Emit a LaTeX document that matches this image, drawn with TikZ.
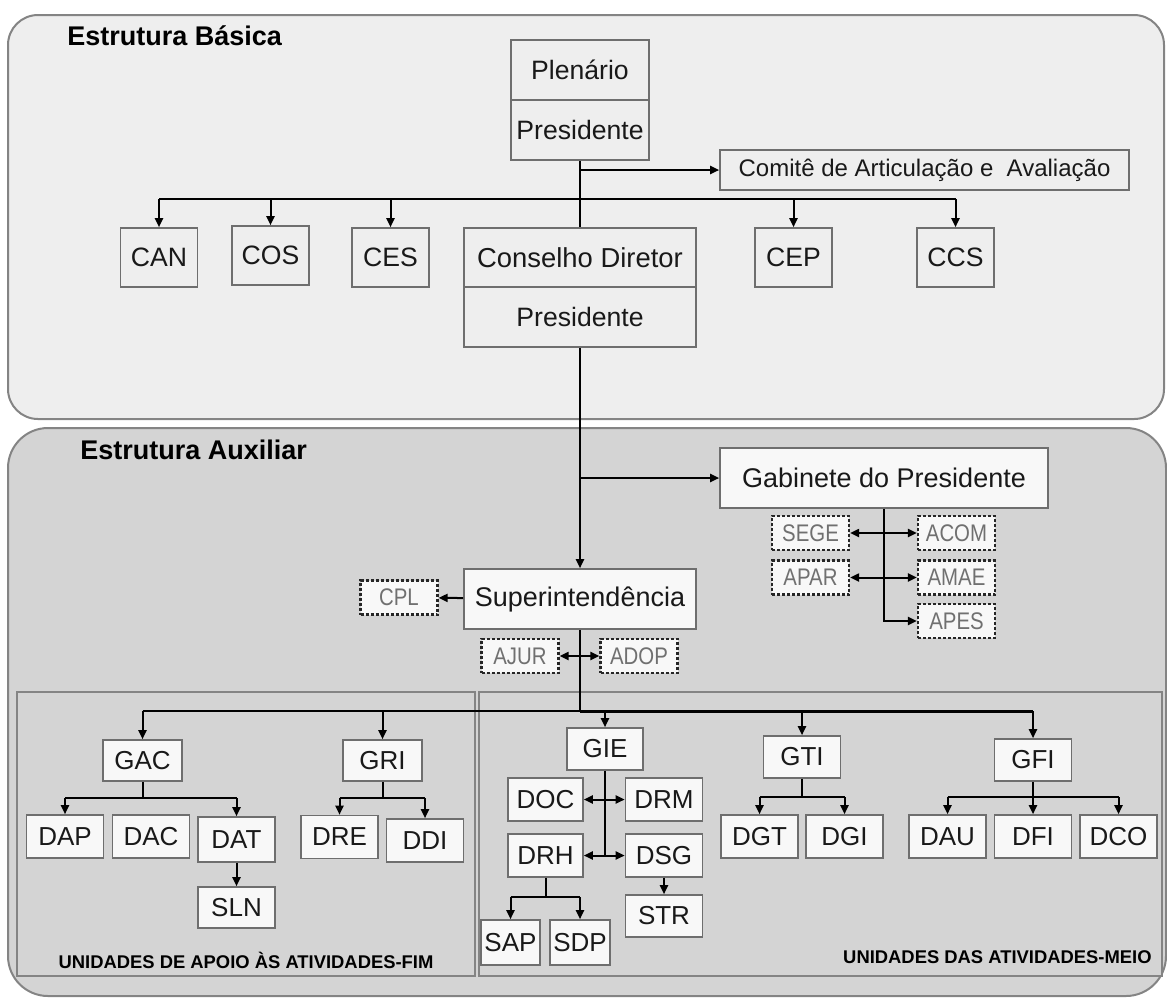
\documentclass[tikz,border=0pt]{standalone}
\usepackage{fontspec}
\setmainfont{Liberation Sans}
\newfontfamily\aidfont[FakeStretch=0.85]{Liberation Sans}
\usetikzlibrary{arrows.meta}

\definecolor{basicgray}{HTML}{EEEEEE}
\definecolor{auxgray}{HTML}{D4D4D4}
\definecolor{framegray}{HTML}{6E6E6E}
\definecolor{boxwhite}{HTML}{F8F8F8}
\definecolor{aidtext}{HTML}{707070}

\tikzset{
  panel/.style={draw=framegray!85, line width=1pt},
  orgbox/.style={draw=framegray, line width=0.8pt, inner sep=0pt, text=black!90,
    font=\fontsize{13}{15}\selectfont},
  topbox/.style={orgbox, fill=basicgray, minimum width=38.5pt, minimum height=29.5pt,
    font=\fontsize{13.3}{15}\selectfont},
  leafbox/.style={orgbox, fill=boxwhite, minimum width=38.5pt, minimum height=21.5pt},
  bigbox/.style={orgbox, fill=boxwhite, minimum height=30pt, font=\fontsize{13.5}{16}\selectfont},
  aidbox/.style={draw=black!85, dash pattern=on 1.5pt off 1pt, line width=1.1pt,
    fill=boxwhite, inner sep=0pt, minimum width=38.5pt, minimum height=17pt,
    text=aidtext, font=\aidfont\fontsize{12}{14}\selectfont},
  link/.style={line width=1pt, black},
  toarrow/.style={link, -{Triangle[length=4.5pt,width=4pt]}},
  twoway/.style={link, {Triangle[length=4.5pt,width=4pt]}-{Triangle[length=4.5pt,width=4pt]}},
  paneltitle/.style={font=\bfseries\fontsize{13.5}{16}\selectfont, anchor=west, inner sep=0pt},
  grouptitle/.style={font=\bfseries\fontsize{9.2}{11}\selectfont, inner sep=0pt}
}

\begin{document}
\begin{tikzpicture}[x=0.5pt,y=-0.5pt]
		\useasboundingbox (0,0) rectangle (1167,998);

		% Estrutura basica
		\draw[panel, fill=basicgray, rounded corners=15pt] (8,15) rectangle (1164,419);
		\node[paneltitle] at (67,36) {Estrutura Básica};
		\node[topbox, minimum width=69pt, minimum height=30pt] (plenario) at (580,70) {Plenário};
		\node[topbox, minimum width=69pt, minimum height=30pt] (presplen) at (580,130) {Presidente};
		\node[topbox, minimum width=204.5pt, minimum height=20pt, font=\fontsize{12}{14}\selectfont] (comite) at (924.5,170) {Comitê de Articulação e\ \ Avaliação};
		\node[topbox] (can) at (159,257.5) {CAN};
		\node[topbox] (cos) at (270.5,255.5) {COS};
		\node[topbox] (ces) at (390.5,257.5) {CES};
		\node[topbox, minimum width=116pt, font=\fontsize{13.7}{16}\selectfont] (conselho) at (580,257.5) {Conselho Diretor};
		\node[topbox, minimum width=116pt, minimum height=30pt] (prescons) at (580,317) {Presidente};
		\node[topbox] (cep) at (793.5,257.5) {CEP};
		\node[topbox] (ccs) at (955.5,257.5) {CCS};

		\coordinate (topbar) at (580,199);
		\draw[link] (presplen) -- (conselho);
		\draw[toarrow] (presplen.south |- comite.west) -- (comite.west);
		\draw[link] (topbar -| can) -- (topbar -| ccs);
		\foreach \c in {can,cos,ces,cep,ccs}
			\draw[toarrow] (topbar -| \c) -- (\c.north);

		% Estrutura auxiliar
		\draw[panel, fill=auxgray, rounded corners=20pt] (8,428) rectangle (1166,996);
		\node[paneltitle] at (80,450) {Estrutura Auxiliar};
		\draw[panel, fill=auxgray] (17,692) rectangle (475,976);
		\draw[panel, fill=auxgray] (479,692) rectangle (1162,976);
		\node[grouptitle] at (246,960) {UNIDADES DE APOIO ÀS ATIVIDADES-FIM};
		\node[grouptitle, anchor=east] at (1152,957) {UNIDADES DAS ATIVIDADES-MEIO};

		\node[bigbox, minimum width=164pt] (gabinete) at (884,478) {Gabinete do Presidente};
		\node[bigbox, minimum width=116pt] (superint) at (580,599) {Superintendência};
		\node[aidbox] (cpl) at (399,597.5) {CPL};
		\node[aidbox] (ajur) at (520,656) {AJUR};
		\node[aidbox] (adop) at (639,656) {ADOP};
		\node[aidbox] (sege) at (810.5,533) {SEGE};
		\node[aidbox] (acom) at (956.5,533) {ACOM};
		\node[aidbox] (apar) at (810.5,577.5) {APAR};
		\node[aidbox] (amae) at (956.5,577.5) {AMAE};
		\node[aidbox] (apes) at (956.5,621) {APES};

		\draw[toarrow] (prescons) -- (superint);
		\draw[toarrow] (prescons.south |- gabinete.west) -- (gabinete.west);
		\draw[toarrow] (superint) -- (cpl);
		\draw[twoway] (ajur) -- (adop);
		\draw[twoway] (sege) -- (acom);
		\draw[twoway] (apar) -- (amae);
		\draw[toarrow] (gabinete.south) |- (apes.west);

		% Atividades-fim
		\node[leafbox, minimum width=39.5pt, minimum height=20.5pt] (gac) at (142.5,760.5) {GAC};
		\node[leafbox, minimum width=39.5pt, minimum height=20.5pt] (gri) at (382.5,760.5) {GRI};
		\node[leafbox] (dap) at (65,836.5) {DAP};
		\node[leafbox] (dac) at (151,836.5) {DAC};
		\node[leafbox, minimum height=22.5pt] (dat) at (236.5,839.5) {DAT};
		\node[leafbox, minimum height=20.5pt] (sln) at (236.5,907.5) {SLN};
		\node[leafbox] (dre) at (339.5,837) {DRE};
		\node[leafbox] (ddi) at (425,840.5) {DDI};

		% Atividades-meio
		\node[leafbox, minimum width=38pt, minimum height=21pt] (gie) at (605,749) {GIE};
		\node[leafbox, minimum height=21pt] (gti) at (802,757) {GTI};
		\node[leafbox, minimum height=21pt] (gfi) at (1033,760) {GFI};
		\node[leafbox, minimum width=37.5pt] (doc) at (545.5,799.5) {DOC};
		\node[leafbox] (drm) at (664,799.5) {DRM};
		\node[leafbox, minimum width=37.5pt] (drh) at (545.5,855.5) {DRH};
		\node[leafbox] (dsg) at (664,855.5) {DSG};
		\node[leafbox, minimum width=29.5pt, minimum height=22.5pt] (sap) at (510.5,942.5) {SAP};
		\node[leafbox, minimum width=30pt, minimum height=22.5pt] (sdp) at (580,942.5) {SDP};
		\node[leafbox, minimum height=21pt] (str) at (664,916) {STR};
		\node[leafbox] (dgt) at (759.5,836.5) {DGT};
		\node[leafbox] (dgi) at (844.5,836.5) {DGI};
		\node[leafbox] (dau) at (947.5,836.5) {DAU};
		\node[leafbox] (dfi) at (1033,836.5) {DFI};
		\node[leafbox] (dco) at (1118.5,836.5) {DCO};

		\coordinate (bottombar) at (580,711);
		\draw[link] (superint) -- (bottombar);
		\draw[link] (bottombar -| gac) -- (bottombar);
		\draw[link, line width=1.5pt] (bottombar) -- (bottombar -| gfi);
		\foreach \g in {gac,gri,gie,gti,gfi}
			\draw[toarrow] (bottombar -| \g) -- (\g.north);

		\coordinate (gacfork) at (142.5,798);
		\draw[link] (gac) -- (gacfork);
		\draw[link] (gacfork -| dap) -- (gacfork -| dat);
		\draw[toarrow] (gacfork -| dap) -- (dap.north);
		\draw[toarrow] (gacfork -| dat) -- (dat.north);
		\draw[toarrow] (dat) -- (sln);

		\coordinate (grifork) at (382.5,798);
		\draw[link] (gri) -- (grifork);
		\draw[link] (grifork -| dre) -- (grifork -| ddi);
		\draw[toarrow] (grifork -| dre) -- (dre.north);
		\draw[toarrow] (grifork -| ddi) -- (ddi.north);

		\draw[link] (gie) -- (gie.south |- drh.east);
		\draw[twoway] (doc) -- (drm);
		\draw[twoway] (drh) -- (dsg);
		\draw[toarrow] (dsg) -- (str);
		\coordinate (drhfork) at (545.5,897);
		\draw[link] (drh) -- (drhfork);
		\draw[link] (drhfork -| sap) -- (drhfork -| sdp);
		\draw[toarrow] (drhfork -| sap) -- (sap.north);
		\draw[toarrow] (drhfork -| sdp) -- (sdp.north);

		\coordinate (gtifork) at (802,797);
		\draw[link] (gti) -- (gtifork);
		\draw[link] (gtifork -| dgt) -- (gtifork -| dgi);
		\draw[toarrow] (gtifork -| dgt) -- (dgt.north);
		\draw[toarrow] (gtifork -| dgi) -- (dgi.north);

		\coordinate (gfifork) at (1033,797);
		\draw[link] (gfi) -- (gfifork);
		\draw[link] (gfifork -| dau) -- (gfifork -| dco);
		\foreach \d in {dau,dfi,dco}
			\draw[toarrow] (gfifork -| \d) -- (\d.north);
	\end{tikzpicture}
\end{document}
